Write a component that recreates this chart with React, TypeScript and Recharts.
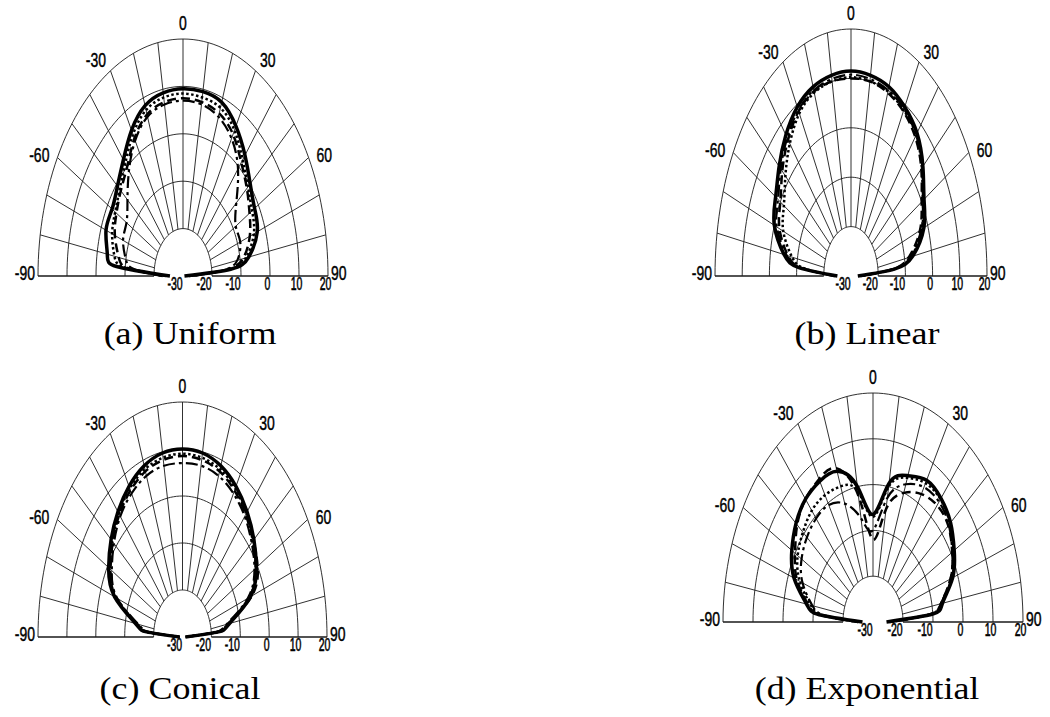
import React from "react";
import { ComposedChart, Line, Scatter, XAxis, YAxis } from "recharts";

// sampled directions (deg), shared by every pattern
const angles = [-90, -85, -80, -70, -60, -50, -40, -30, -20, -10, 0, 10, 20, 30, 40, 50, 60, 70, 80, 85, 90];

// (a) Uniform, dB
const uniformSolid = [-25.5, -7, -3.5, -1.75, -1.75, -0.5, 2, 5.5, 8.25, 9.25, 9.5, 9.5, 9, 6.5, 3.25, 0.25, -1.5, -2.75, -7, -13.5, -29.5];
const uniformDotted = [-24, -10, -6, -4, -3, -1.5, 1, 4.5, 7.25, 8.25, 8.5, 8.25, 7.75, 5.5, 2, -0.75, -2.5, -4, -8, -14, -28];
const uniformDashed = [-23, -11, -7.5, -5, -3.5, -2, 0, 3.5, 6.25, 7.25, 7.5, 7.25, 6.5, 4.5, 1.25, -1.25, -3.5, -5.5, -9, -15, -27];
const uniformDashDot = [-23, -13, -10, -8, -7.5, -5, -1, 3, 5.75, 6.75, 7, 6.75, 5.75, 3.5, -0.5, -6, -9, -9, -11, -16, -27];

// (b) Linear, dB
const linearSolid = [-25, -11, -5, 0, 2, 4.5, 7.25, 9.5, 10.75, 11.25, 11.5, 11.25, 10.75, 9.5, 7.75, 4.5, 1, -1.5, -7, -14, -27.5];
const linearDotted = [-24, -13, -8, -3.5, -1.5, 1.5, 5, 8, 9.5, 10, 10.25, 10, 9.75, 8.75, 7.25, 4, 0.5, -2.25, -7.5, -14.5, -26.5];
const linearDashed = [-24, -12, -6.5, -2, 0, 3, 6, 8.5, 9.75, 10, 10, 10, 9.5, 8.5, 6.75, 3.75, 0, -3, -8.5, -15, -26.5];
const linearDashDot = [-24, -11.5, -6, -1, 1, 3.75, 6.5, 8.75, 10, 10.5, 10.75, 10.5, 10, 9, 7.25, 4.25, 0.5, -2.5, -8, -14.5, -26.5];

// (c) Conical, dB
const conicalSolid = [-29, -17.5, -13.5, -5, -0.5, 2.25, 4.75, 7, 8.75, 9.75, 10, 9.75, 8.75, 7, 4.75, 2.25, -0.5, -5, -13.5, -17.5, -29];
const conicalDotted = [-29, -18, -14, -5.5, -1, 1.75, 4.25, 6.5, 8, 8.75, 9, 8.75, 8, 6.5, 4.25, 1.75, -0.75, -5.5, -14, -18, -29];
const conicalDashed = [-29, -18, -14, -5.5, -1.25, 1.5, 4, 6, 7.5, 8.25, 8.5, 8.25, 7.5, 6, 4, 2, 0, -4.5, -14, -18, -29];
const conicalDashDot = [-29, -18.5, -14.5, -6, -1.75, 1, 3.5, 5.25, 6.5, 7, 7, 7, 6.5, 5.25, 3.5, 1.25, -1.25, -6, -14.5, -18.5, -29];

// (d) Exponential, dB
const expoSolid = [-26.5, -12, -7.5, -2, 1.25, 3.5, 5, 5.5, 5, 0, -6.5, 0.75, 4, 5.75, 5.25, 3.75, 1.25, -1.75, -6.5, -10, -25.5];
const expoDotted = [-25, -13.5, -9, -4, -1, 0.5, 1.75, 2, 1.5, -1, -7, 0, 3.5, 5, 5, 3.5, 1, -2, -7, -11, -24.5];
const expoDashed = [-25, -12.5, -8, -3, 0, 3, 5, 6, 5.75, -2, -12, -5, 0, 2.25, 3.25, 2.75, 0.5, -2.5, -7, -11, -24.5];
const expoDashDot = [-25, -14, -9.5, -5, -2.5, -1.25, -0.5, -0.5, -2.5, -7, -10, -2.5, 2, 4, 4.25, 3, 0.5, -2.5, -7, -11, -24.5];

const angleTicks = [-90, -60, -30, 0, 30, 60, 90];
const dbTicks = [-30, -20, -10, 0, 10, 20];
const ringDb = [-20, -10, 0, 10, 20];

const DB_MIN = -30;
const DB_MAX = 20;
const HOLE_DB = -20;

const rad = (d: number) => (d * Math.PI) / 180;
const norm = (db: number) => Math.max(0, (db - DB_MIN) / (DB_MAX - DB_MIN));
const toXY = (a: number, db: number) => ({
  x: norm(db) * Math.sin(rad(a)),
  y: norm(db) * Math.cos(rad(a)),
});

const trace = (vals: number[]) => angles.map((a, i) => toXY(a, vals[i]));

const ringPts = (db: number) => {
  const pts = [];
  for (let a = -90; a <= 90; a += 2) pts.push(toXY(a, db));
  return pts;
};
const spokes: { x: number; y: number }[][] = [];
for (let a = -90; a <= 90; a += 10) spokes.push([toXY(a, HOLE_DB), toXY(a, DB_MAX)]);

const STYLES: Record<string, any> = {
  solid: { strokeWidth: 3.5 },
  dotted: { strokeWidth: 2.5, strokeDasharray: "2.5 2.5" },
  dashed: { strokeWidth: 2.5, strokeDasharray: "9 5" },
  dashdot: { strokeWidth: 2.2, strokeDasharray: "12 4 3 4" },
};

const FONT = "'Liberation Sans', Arial, sans-serif";

const AngleLabel = (props: any) => {
  const { cx, cy, payload } = props;
  const a = payload.a;
  const s = Math.sign(a);
  const abs = Math.abs(a);
  const dx = abs === 30 ? 4.5 : abs === 60 ? 8 : abs === 90 ? 3 : 0;
  const dy = abs === 0 ? -16 : abs === 30 ? -10.5 : -3;
  return (
    <text
      transform={`translate(${cx + s * dx},${cy + dy}) scale(1,1.5)`}
      textAnchor={s < 0 ? "end" : s > 0 ? "start" : "middle"}
      dominantBaseline="central"
      fontFamily={FONT}
      fontSize={14}
      fill="#000"
      stroke="#000"
      strokeWidth={0.3}
    >
      {a}
    </text>
  );
};

const DbTick = (props: any) => {
  const { x, y, payload } = props;
  const db = Math.round(payload.value * (DB_MAX - DB_MIN) + DB_MIN);
  const dx = db < 0 ? -8 : -2.5;
  return (
    <text
      transform={`translate(${x + dx},${y + 8}) scale(1,1.7)`}
      textAnchor="middle"
      dominantBaseline="central"
      fontFamily={FONT}
      fontSize={10.5}
      fill="#000"
      stroke="#000"
      strokeWidth={0.35}
    >
      {db}
    </text>
  );
};

type Series = { values: number[]; style: string };

const M = { top: 30, right: 36, bottom: 0, left: 36 };
const AXIS_H = 22;

function PolarPanel({ cx, baseline, rh, rv, series }: { cx: number; baseline: number; rh: number; rv: number; series: Series[] }) {
  const labelPts = angleTicks.map((a) => ({ ...toXY(a, DB_MAX), a }));
  return (
    <div style={{ position: "absolute", left: cx - rh - M.left, top: baseline - rv - M.top }}>
      <ComposedChart width={2 * rh + M.left + M.right} height={rv + M.top + AXIS_H} margin={M}>
        <XAxis
          type="number"
          dataKey="x"
          domain={[-1, 1]}
          ticks={dbTicks.map(norm)}
          interval={0}
          tick={<DbTick />}
          axisLine={false}
          tickLine={false}
          tickSize={0}
          tickMargin={0}
          height={AXIS_H}
        />
        <YAxis type="number" dataKey="y" domain={[0, 1]} hide />
        {ringDb.map((db) => (
          <Line key={"r" + db} data={ringPts(db)} dataKey="y" type="linear" stroke="#1a1a1a" strokeWidth={0.9} dot={false} activeDot={false} isAnimationActive={false} />
        ))}
        {spokes.map((pts, i) => (
          <Line key={"s" + i} data={pts} dataKey="y" type="linear" stroke="#1a1a1a" strokeWidth={Math.abs(pts[0].y) < 1e-6 ? 1.3 : 0.9} dot={false} activeDot={false} isAnimationActive={false} />
        ))}
        {series.map((s, i) => (
          <Line key={"d" + i} data={trace(s.values)} dataKey="y" type="natural" stroke="#000" {...STYLES[s.style]} fill="none" dot={false} activeDot={false} isAnimationActive={false} />
        ))}
        <Scatter data={labelPts} shape={<AngleLabel />} isAnimationActive={false} />
      </ComposedChart>
    </div>
  );
}

const Caption = ({ x, y, text }: { x: number; y: number; text: string }) => (
  <div
    style={{
      position: "absolute",
      left: x,
      top: y,
      transform: "translate(-50%, -50%) scaleX(1.16)",
      fontFamily: "'Liberation Serif', 'Times New Roman', serif",
      fontSize: 31,
      whiteSpace: "nowrap",
      color: "#000",
    }}
  >
    {text}
  </div>
);

export default function App() {
  return (
    <div style={{ position: "absolute", left: 0, top: 0, width: 1050, height: 717, overflow: "hidden", background: "#fff" }}>
      <PolarPanel
        cx={183}
        baseline={276}
        rh={145}
        rv={237}
        series={[
          { values: uniformSolid, style: "solid" },
          { values: uniformDotted, style: "dotted" },
          { values: uniformDashed, style: "dashed" },
          { values: uniformDashDot, style: "dashdot" },
        ]}
      />
      <PolarPanel
        cx={851}
        baseline={276}
        rh={136}
        rv={247}
        series={[
          { values: linearSolid, style: "solid" },
          { values: linearDotted, style: "dotted" },
          { values: linearDashed, style: "dashed" },
          { values: linearDashDot, style: "dashdot" },
        ]}
      />
      <PolarPanel
        cx={182}
        baseline={637}
        rh={144.5}
        rv={235}
        series={[
          { values: conicalSolid, style: "solid" },
          { values: conicalDotted, style: "dotted" },
          { values: conicalDashed, style: "dashed" },
          { values: conicalDashDot, style: "dashdot" },
        ]}
      />
      <PolarPanel
        cx={873}
        baseline={622}
        rh={150}
        rv={229}
        series={[
          { values: expoSolid, style: "solid" },
          { values: expoDotted, style: "dotted" },
          { values: expoDashed, style: "dashed" },
          { values: expoDashDot, style: "dashdot" },
        ]}
      />
      <Caption x={190} y={333.5} text="(a) Uniform" />
      <Caption x={867} y={333.5} text="(b) Linear" />
      <Caption x={180} y={689} text="(c) Conical" />
      <Caption x={867} y={689} text="(d) Exponential" />
    </div>
  );
}
